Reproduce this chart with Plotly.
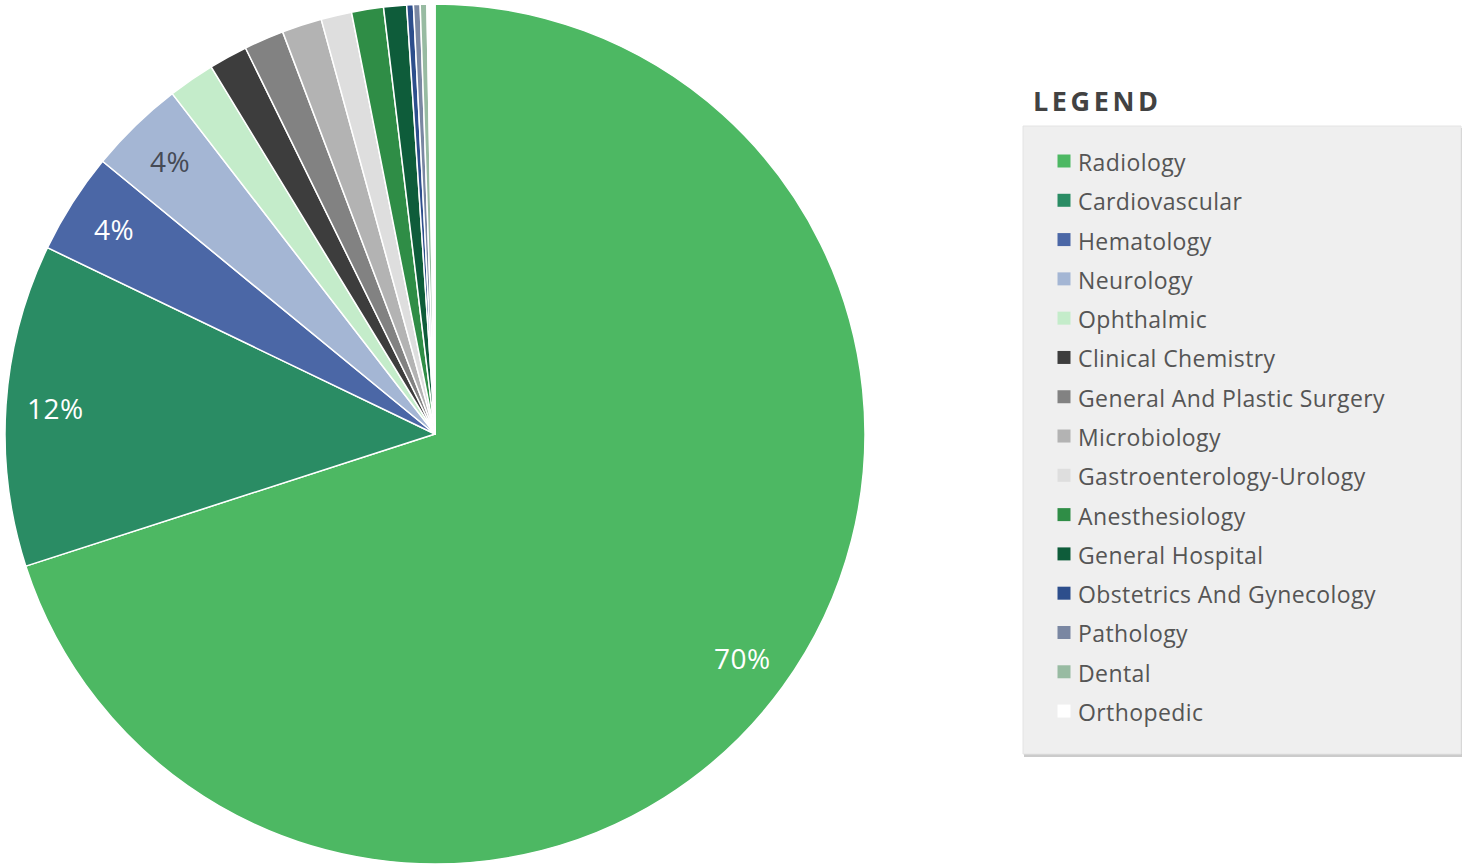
import math
import plotly.graph_objects as go

# Share of devices by medical specialty (percent)
categories = [
    "Radiology", "Cardiovascular", "Hematology", "Neurology", "Ophthalmic",
    "Clinical Chemistry", "General And Plastic Surgery", "Microbiology",
    "Gastroenterology-Urology", "Anesthesiology", "General Hospital",
    "Obstetrics And Gynecology", "Pathology", "Dental", "Orthopedic",
]
shares = [70.0, 12.1, 3.8, 3.6, 1.75, 1.45, 1.5, 1.5, 1.15, 1.2, 0.86,
          0.25, 0.25, 0.25, 0.3]
colors = [
    "#4db863", "#2a8c64", "#4b67a6", "#a4b6d4", "#c4ecca",
    "#3d3d3d", "#828282", "#b3b3b3", "#dedede", "#2f8d46",
    "#0e5c3a", "#2d4e8c", "#7a87a2", "#98bba2", "#ffffff",
]
legend_title = "LEGEND"

W, H = 1463, 867
CX, CY, R = 435, 434, 430  # pie centre / radius in pixels
FONT = "Open Sans"

fig = go.Figure()
fig.add_trace(go.Pie(
    labels=categories,
    values=shares,
    sort=False,
    direction="clockwise",
    rotation=0,
    marker=dict(colors=colors, line=dict(color="#ffffff", width=1.5)),
    textinfo="none",
    hoverinfo="label+percent",
    showlegend=False,
    domain=dict(x=[(CX - R) / W, (CX + R) / W],
                y=[(H - CY - R) / H, (H - CY + R) / H]),
))


def luminance(hex_color):
    h = hex_color.lstrip("#")
    r, g, b = (int(h[i:i + 2], 16) for i in (0, 2, 4))
    return 0.299 * r + 0.587 * g + 0.114 * b


annotations = []
shapes = []

# Percentage labels for the larger slices, placed near the rim
total = sum(shares)
cum = 0.0
for name, v, c in zip(categories, shares, colors):
    frac = v / total
    mid = (cum + frac / 2) * 2 * math.pi
    cum += frac
    if frac < 0.03:
        continue
    rr = 0.885 * R
    px = CX + rr * math.sin(mid)
    py = CY - rr * math.cos(mid)
    annotations.append(dict(
        x=px / W, y=1 - py / H, xref="paper", yref="paper",
        text=f'<span style="letter-spacing:0.5px">{round(frac * 100)}%</span>',
        showarrow=False, xanchor="center", yanchor="middle",
        font=dict(family=FONT, size=28,
                  color="#ffffff" if luminance(c) < 160 else "#454a55"),
    ))

# Legend panel
BOX_L, BOX_R, BOX_T, BOX_B = 1023, 1461, 126, 754
shapes.append(dict(type="rect", xref="paper", yref="paper",
                   x0=(BOX_L + 1) / W, x1=(BOX_R + 1) / W,
                   y0=1 - (BOX_B + 3) / H, y1=1 - (BOX_T + 2) / H,
                   fillcolor="rgba(140,140,140,0.45)", line=dict(width=0),
                   layer="below"))
shapes.append(dict(type="rect", xref="paper", yref="paper",
                   x0=BOX_L / W, x1=BOX_R / W,
                   y0=1 - BOX_B / H, y1=1 - BOX_T / H,
                   fillcolor="#efefef", line=dict(color="#e4e4e4", width=1),
                   layer="below"))
annotations.append(dict(
    x=1031 / W, y=1 - 100 / H, xref="paper", yref="paper",
    text='<b><span style="letter-spacing:3.6px">' + legend_title + "</span></b>",
    showarrow=False, xanchor="left", yanchor="middle",
    font=dict(family=FONT, size=27, color="#424242"),
))

ROW0, ROW_STEP, SQ = 161, 39.29, 13
SQ_CX, TXT_X = 1064, 1076
for i, (name, c) in enumerate(zip(categories, colors)):
    yc = ROW0 + i * ROW_STEP
    shapes.append(dict(type="rect", xref="paper", yref="paper",
                       x0=(SQ_CX - SQ / 2) / W, x1=(SQ_CX + SQ / 2) / W,
                       y0=1 - (yc + SQ / 2) / H, y1=1 - (yc - SQ / 2) / H,
                       fillcolor=c, line=dict(width=0), layer="above"))
    annotations.append(dict(
        x=TXT_X / W, y=1 - (yc + 1) / H, xref="paper", yref="paper",
        text='<span style="letter-spacing:0.4px">' + name + "</span>",
        showarrow=False, xanchor="left", yanchor="middle",
        font=dict(family=FONT, size=23, color="#555555"),
    ))

fig.update_layout(
    width=W, height=H,
    margin=dict(l=0, r=0, t=0, b=0),
    paper_bgcolor="#ffffff",
    plot_bgcolor="#ffffff",
    showlegend=False,
    annotations=annotations,
    shapes=shapes,
)

fig.write_html("out.html")
